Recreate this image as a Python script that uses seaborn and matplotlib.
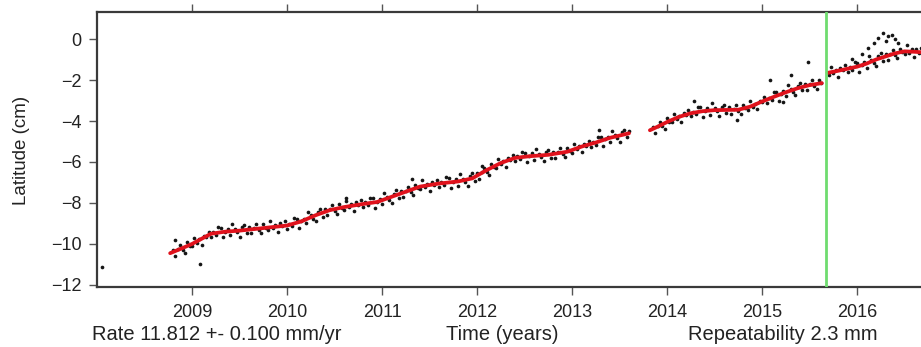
import numpy as np
import pandas as pd
import matplotlib
matplotlib.use("Agg")
import matplotlib.pyplot as plt
import seaborn as sns

# ---------------- data ----------------
# fitted model, three segments (gap in 2013, offset at the green break)
fit1_t = [2008.77, 2008.9, 2009.0, 2009.1, 2009.2, 2009.35, 2009.5, 2009.7, 2009.9, 2010.0,
          2010.15, 2010.3, 2010.45, 2010.6, 2010.8, 2010.95, 2011.1, 2011.25, 2011.4, 2011.6,
          2011.8, 2011.95, 2012.1, 2012.25, 2012.4, 2012.55, 2012.75, 2012.95, 2013.1, 2013.25,
          2013.4, 2013.6]
fit1_v = [-10.45, -10.2, -10.0, -9.75, -9.5, -9.4, -9.35, -9.25, -9.15, -9.1,
          -8.9, -8.6, -8.35, -8.2, -8.05, -7.95, -7.7, -7.45, -7.2, -7.05,
          -6.95, -6.8, -6.4, -6.05, -5.8, -5.72, -5.65, -5.5, -5.25, -5.05,
          -4.82, -4.6]
fit2_t = [2013.82, 2013.9, 2014.0, 2014.125, 2014.25, 2014.375, 2014.5, 2014.625, 2014.75,
          2014.875, 2015.0, 2015.125, 2015.25, 2015.375, 2015.5, 2015.63]
fit2_v = [-4.45, -4.28, -4.05, -3.8, -3.62, -3.52, -3.47, -3.46, -3.45,
          -3.3, -3.05, -2.82, -2.6, -2.4, -2.25, -2.15]
fit3_t = [2015.69, 2015.8, 2015.9, 2016.0, 2016.1, 2016.2, 2016.3, 2016.4, 2016.5, 2016.6, 2016.7]
fit3_v = [-1.65, -1.55, -1.45, -1.35, -1.2, -1.0, -0.85, -0.7, -0.6, -0.62, -0.65]

# observed daily positions (sampled)
obs1_t = [2008.800, 2008.825, 2008.850, 2008.875, 2008.900, 2008.925, 2008.950, 2008.975,
          2009.000, 2009.025, 2009.050, 2009.075, 2009.100, 2009.125, 2009.150, 2009.175,
          2009.200, 2009.225, 2009.250, 2009.275, 2009.300, 2009.325, 2009.350, 2009.375,
          2009.400, 2009.425, 2009.450, 2009.475, 2009.500, 2009.525, 2009.550, 2009.575,
          2009.600, 2009.625, 2009.650, 2009.675, 2009.700, 2009.725, 2009.750, 2009.775,
          2009.800, 2009.825, 2009.850, 2009.875, 2009.900, 2009.925, 2009.950, 2009.975,
          2010.000, 2010.025, 2010.050, 2010.075, 2010.100, 2010.125, 2010.150, 2010.175,
          2010.200, 2010.225, 2010.250, 2010.275, 2010.300, 2010.325, 2010.350, 2010.375,
          2010.400, 2010.425, 2010.450, 2010.475, 2010.500, 2010.525, 2010.550, 2010.575,
          2010.600, 2010.625, 2010.650, 2010.675, 2010.700, 2010.725, 2010.750, 2010.775,
          2010.800, 2010.825, 2010.850, 2010.875, 2010.900, 2010.925, 2010.950, 2010.975,
          2011.000, 2011.025, 2011.050, 2011.075, 2011.100, 2011.125, 2011.150, 2011.175,
          2011.200, 2011.225, 2011.250, 2011.275, 2011.300, 2011.325, 2011.350, 2011.375,
          2011.400, 2011.425, 2011.450, 2011.475, 2011.500, 2011.525, 2011.550, 2011.575,
          2011.600, 2011.625, 2011.650, 2011.675, 2011.700, 2011.725, 2011.750, 2011.775,
          2011.800, 2011.825, 2011.850, 2011.875, 2011.900, 2011.925, 2011.950, 2011.975,
          2012.000, 2012.025, 2012.050, 2012.075, 2012.100, 2012.125, 2012.150, 2012.175,
          2012.200, 2012.225, 2012.250, 2012.275, 2012.300, 2012.325, 2012.350, 2012.375,
          2012.400, 2012.425, 2012.450, 2012.475, 2012.500, 2012.525, 2012.550, 2012.575,
          2012.600, 2012.625, 2012.650, 2012.675, 2012.700, 2012.725, 2012.750, 2012.775,
          2012.800, 2012.825, 2012.850, 2012.875, 2012.900, 2012.925, 2012.950, 2012.975,
          2013.000, 2013.025, 2013.050, 2013.075, 2013.100, 2013.125, 2013.150, 2013.175,
          2013.200, 2013.225, 2013.250, 2013.275, 2013.300, 2013.325, 2013.350, 2013.375,
          2013.400, 2013.425, 2013.450, 2013.475, 2013.500, 2013.525, 2013.550, 2013.575,
          2013.600]
obs1_v = [-10.27, -10.57, -10.24, -10.04, -10.28, -10.42, -9.92, -10.08,
          -10.12, -9.70, -9.93, -9.78, -10.03, -9.60, -9.64, -9.40,
          -9.65, -9.42, -9.57, -9.19, -9.23, -9.68, -9.40, -9.26,
          -9.58, -9.03, -9.28, -9.43, -9.65, -9.19, -9.08, -9.46,
          -9.18, -9.48, -9.22, -9.02, -9.33, -9.47, -9.04, -9.20,
          -9.32, -8.90, -9.22, -9.07, -9.43, -9.00, -9.14, -8.90,
          -9.25, -9.02, -9.13, -8.75, -8.77, -9.22, -8.90, -8.76,
          -9.00, -8.45, -8.61, -8.76, -8.90, -8.44, -8.28, -8.66,
          -8.31, -8.61, -8.30, -8.10, -8.38, -8.52, -8.07, -8.23,
          -8.32, -7.90, -8.21, -8.06, -8.40, -7.97, -8.11, -7.87,
          -8.20, -7.97, -8.12, -7.74, -7.78, -8.23, -7.95, -7.81,
          -8.07, -7.52, -7.69, -7.84, -8.00, -7.54, -7.38, -7.76,
          -7.41, -7.71, -7.40, -7.20, -7.45, -7.59, -7.10, -7.26,
          -7.32, -6.90, -7.21, -7.06, -7.40, -6.97, -7.11, -6.87,
          -7.20, -6.97, -7.12, -6.74, -6.80, -7.25, -6.97, -6.83,
          -7.15, -6.60, -6.81, -6.96, -7.15, -6.69, -6.56, -6.94,
          -6.55, -6.85, -6.48, -6.28, -6.48, -6.62, -6.10, -6.26,
          -6.29, -5.87, -6.10, -5.95, -6.25, -5.82, -5.90, -5.66,
          -5.95, -5.72, -5.87, -5.49, -5.55, -6.00, -5.72, -5.58,
          -5.90, -5.35, -5.59, -5.74, -5.97, -5.51, -5.41, -5.79,
          -5.49, -5.79, -5.53, -5.33, -5.62, -5.76, -5.32, -5.48,
          -5.54, -5.12, -5.38, -5.23, -5.53, -5.10, -5.20, -4.96,
          -5.27, -5.04, -5.15, -4.77, -4.77, -5.22, -4.90, -4.76,
          -5.02, -4.47, -4.68, -4.83, -5.01, -4.55, -4.42, -4.80,
          -4.48]
obs2_t = [2013.850, 2013.875, 2013.900, 2013.925, 2013.950, 2013.975, 2014.000, 2014.025,
          2014.050, 2014.075, 2014.100, 2014.125, 2014.150, 2014.175, 2014.200, 2014.225,
          2014.250, 2014.275, 2014.300, 2014.325, 2014.350, 2014.375, 2014.400, 2014.425,
          2014.450, 2014.475, 2014.500, 2014.525, 2014.550, 2014.575, 2014.600, 2014.625,
          2014.650, 2014.675, 2014.700, 2014.725, 2014.750, 2014.775, 2014.800, 2014.825,
          2014.850, 2014.875, 2014.900, 2014.925, 2014.950, 2014.975, 2015.000, 2015.025,
          2015.050, 2015.075, 2015.100, 2015.125, 2015.150, 2015.175, 2015.200, 2015.225,
          2015.250, 2015.275, 2015.300, 2015.325, 2015.350, 2015.375, 2015.400, 2015.425,
          2015.450, 2015.475, 2015.500, 2015.525, 2015.550, 2015.575, 2015.600, 2015.625]
obs2_v = [-4.27, -4.57, -4.23, -4.03, -4.25, -4.39, -3.87, -4.03,
          -4.07, -3.65, -3.90, -3.75, -4.04, -3.61, -3.71, -3.47,
          -3.77, -3.54, -3.68, -3.30, -3.34, -3.79, -3.50, -3.36,
          -3.69, -3.14, -3.38, -3.53, -3.77, -3.31, -3.22, -3.60,
          -3.34, -3.64, -3.40, -3.20, -3.53, -3.67, -3.21, -3.37,
          -3.45, -3.03, -3.30, -3.15, -3.43, -3.00, -3.07, -2.83,
          -3.11, -2.88, -2.96, -2.58, -2.58, -3.03, -2.69, -2.55,
          -2.80, -2.25, -2.43, -2.58, -2.74, -2.28, -2.13, -2.51,
          -2.19, -2.49, -2.20, -2.00, -2.29, -2.43, -1.99, -2.15]
obs3_t = [2015.700, 2015.725, 2015.750, 2015.775, 2015.800, 2015.825, 2015.850, 2015.875,
          2015.900, 2015.925, 2015.950, 2015.975, 2016.000, 2016.025, 2016.050, 2016.075,
          2016.100, 2016.125, 2016.150, 2016.175, 2016.200, 2016.225, 2016.250, 2016.275,
          2016.300, 2016.325, 2016.350, 2016.375, 2016.400, 2016.425, 2016.450, 2016.475,
          2016.500, 2016.525, 2016.550, 2016.575, 2016.600, 2016.625, 2016.650, 2016.675]
obs3_v = [-1.76, -1.34, -1.65, -1.50, -1.83, -1.40, -1.52, -1.28,
          -1.60, -1.37, -1.50, -1.12, -1.15, -1.60, -1.28, -1.14,
          -1.40, -0.85, -1.01, -1.16, -1.30, -0.84, -0.69, -1.07,
          -0.73, -1.03, -0.73, -0.53, -0.78, -0.92, -0.47, -0.63,
          -0.72, -0.30, -0.66, -0.51, -0.90, -0.47, -0.66, -0.42]
outlier_t = [2008.05, 2008.82, 2009.08, 2010.62, 2011.32, 2012.05, 2013.28, 2014.28, 2014.74,
             2015.08, 2015.22, 2015.30, 2015.48, 2015.95, 2016.05, 2016.12, 2016.18, 2016.22,
             2016.27, 2016.30, 2016.33, 2016.37, 2016.40, 2016.43]
outlier_v = [-11.1, -9.8, -11.0, -7.75, -6.85, -6.2, -4.45, -3.0, -3.95,
             -2.0, -3.07, -1.75, -1.1, -0.95, -0.75, -0.45, -0.2, 0.05,
             0.3, -0.1, 0.15, 0.2, 0.0, -0.2]

break_epoch = 2015.67
year_ticks = [2009, 2010, 2011, 2012, 2013, 2014, 2015, 2016]
lat_ticks = [0, -2, -4, -6, -8, -10, -12]
rate_text = "Rate 11.812 +- 0.100 mm/yr"
xlabel_text = "Time (years)"
rep_text = "Repeatability 2.3 mm"
ylabel_text = "Latitude (cm)"

# ---------------- tables ----------------
fit_df = pd.concat([
    pd.DataFrame({"t": fit1_t, "v": fit1_v, "seg": 1}),
    pd.DataFrame({"t": fit2_t, "v": fit2_v, "seg": 2}),
    pd.DataFrame({"t": fit3_t, "v": fit3_v, "seg": 3}),
], ignore_index=True)
obs_df = pd.DataFrame({"t": obs1_t + obs2_t + obs3_t + outlier_t,
                       "v": obs1_v + obs2_v + obs3_v + outlier_v})

# ---------------- plot ----------------
sns.set_theme(style="ticks")
plt.rcParams['font.family'] = ['Liberation Sans', 'DejaVu Sans']

W, H = 921, 347
fig = plt.figure(figsize=(W / 100, H / 100), dpi=100)
ax = fig.add_axes([97 / W, 60 / H, 843 / W, 275 / H])

sns.scatterplot(data=obs_df, x="t", y="v", color="#151515", s=7, linewidth=0,
                ax=ax, zorder=2)
sns.lineplot(data=fit_df, x="t", y="v", units="seg", estimator=None, sort=False,
             color="#e0121c", linewidth=2.7, ax=ax, zorder=3)
ax.axvline(break_epoch, color="#6fdc6f", linewidth=2.0, zorder=4)

ax.set_xlim(2008.0, 2008.0 + 843 / 95)
ax.set_ylim(-12.1, 1.32)
ax.set_xticks(year_ticks)
ax.set_xticklabels([str(y) for y in year_ticks])
ax.set_yticks(lat_ticks)
ax.set_yticklabels([str(v).replace("-", "\u2212") for v in lat_ticks])
ax.set_xlabel("")
ax.set_ylabel("")

for side in ["left", "bottom", "top"]:
    ax.spines[side].set_visible(True)
    ax.spines[side].set_color("#3a3a3a")
    ax.spines[side].set_linewidth(1.6)
ax.spines["right"].set_visible(False)

ax.tick_params(axis="both", direction="out", length=6, width=1.0, colors="#555555",
               labelcolor="#222222", labelsize=13)
ax.tick_params(axis="x", top=True, labeltop=False, pad=6)
ax.tick_params(axis="y", pad=5)

fig.text(92 / W, 1 - 334 / H, rate_text, ha="left", va="center", fontsize=14.5, color="#222222")
fig.text(502 / W, 1 - 334 / H, xlabel_text, ha="center", va="center", fontsize=14.5, color="#222222")
fig.text(783 / W, 1 - 334 / H, rep_text, ha="center", va="center", fontsize=14.5, color="#222222")
fig.text(22 / W, 1 - 150 / H, ylabel_text, ha="center", va="center", rotation=90,
         fontsize=13.5, color="#222222")

fig.savefig("out.png", dpi=100)
